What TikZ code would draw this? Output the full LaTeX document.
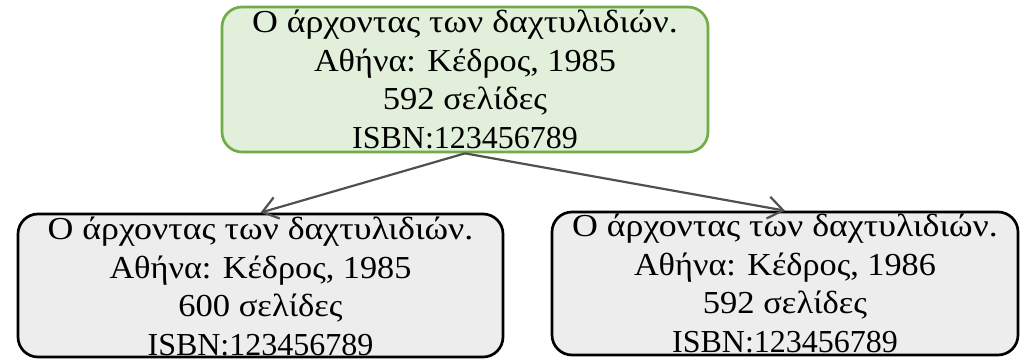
\documentclass[tikz,border=0pt]{standalone}
\usepackage{fontspec}
\setmainfont{Liberation Serif}
\usetikzlibrary{arrows.meta}
\definecolor{boxgreen}{HTML}{E2EFDA}
\definecolor{bordergreen}{HTML}{70AD47}
\definecolor{boxgray}{HTML}{EDEDED}
\definecolor{arrowgray}{HTML}{505050}
\newcommand\wideline[2]{{\addfontfeature{FakeStretch=#1}#2}}
\newcommand\booklines[3]{\wideline{1.12}{Ο άρχοντας των δαχτυλιδιών.}\\\wideline{1.07}{Αθήνα: Κέδρος, #1}\\\wideline{1.08}{#2 σελίδες}\\#3}
\begin{document}
\begin{tikzpicture}[x=1pt,y=-1pt,
  bookbox/.style={draw, line width=2.7pt, rounded corners=20pt, inner sep=0pt},
  greenbox/.style={bookbox, draw=bordergreen, fill=boxgreen},
  graybox/.style={bookbox, draw=black, fill=boxgray},
  booktext/.style={anchor=base, align=center, inner sep=0pt,
    font=\fontsize{32}{38.5}\selectfont},
  link/.style={draw=arrowgray, line width=2.2pt, -{Straight Barb[length=15pt,width=22pt]}}
]
\useasboundingbox (0,0) rectangle (1020,359);
\node[greenbox, minimum width=486pt, minimum height=145pt] (top) at (465,79.5) {};
\node[graybox, minimum width=485pt, minimum height=143pt] (left) at (260.5,285.5) {};
\node[graybox, minimum width=466pt, minimum height=143pt] (right) at (785,283.5) {};
\node[booktext] (toptext) at (465,148) {\booklines{1985}{592}{ISBN:123456789}};
\node[booktext] (lefttext) at (260.5,355) {\booklines{1985}{600}{ISBN:123456789}};
\node[booktext] (righttext) at (785,352) {\booklines{1986}{592}{ISBN:123456789}};
\draw[link] (top.south) -- (left.north);
\draw[link] (top.south) -- (right.north);
\end{tikzpicture}
\end{document}
